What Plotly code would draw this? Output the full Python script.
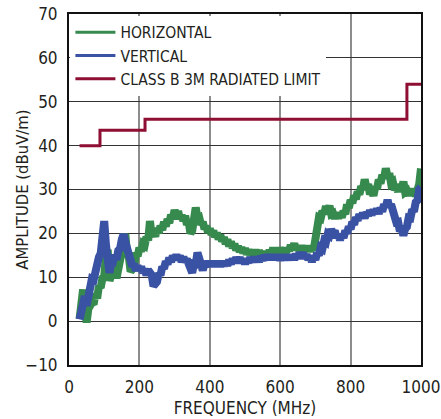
import plotly.graph_objects as go

# Frequency sampling grid (MHz): 30, 35, ..., 1000
FREQ_START_MHZ = 30
FREQ_STEP_MHZ = 5

horizontal_dbuv = [
    0.5, 3.5, 7.2, 3.0, -0.3, 2.8, 3.2, 4.2, 3.8, 6.3,
    5.2, 8.0, 7.6, 9.8, 10.2, 14.8, 16.3, 9.2, 10.3, 10.4,
    12.8, 9.8, 11.7, 12.4, 15.8, 17.3, 19.9, 15.2, 14.6, 11.3,
    11.8, 12.3, 15.6, 14.8, 16.7, 15.9, 17.6, 17.3, 19.2, 18.4,
    22.8, 19.4, 20.2, 19.3, 21.2, 20.1, 21.7, 20.8, 22.6, 21.6,
    23.2, 22.4, 24.2, 23.3, 25.3, 24.0, 25.1, 23.3, 24.1, 22.9,
    24.0, 22.0, 22.6, 20.0, 20.6, 23.6, 25.9, 23.4, 23.6, 22.0,
    22.6, 21.0, 21.7, 20.2, 21.1, 19.7, 20.6, 19.2, 20.1, 18.7,
    19.6, 18.2, 19.1, 17.6, 18.6, 17.1, 18.1, 16.7, 17.6, 16.2,
    17.1, 15.8, 16.8, 15.5, 16.6, 15.2, 16.3, 15.0, 16.1, 15.0,
    16.2, 14.9, 16.1, 14.8, 15.9, 14.5, 15.6, 14.8, 16.2, 15.2,
    16.7, 15.4, 16.6, 15.3, 16.7, 15.5, 16.5, 15.4, 16.6, 16.0,
    17.3, 16.4, 17.7, 16.2, 17.1, 15.9, 17.2, 15.8, 17.0, 16.0,
    17.1, 15.9, 17.0, 16.2, 18.4, 21.0, 23.6, 23.4, 25.1, 24.4,
    26.2, 25.0, 26.3, 24.4, 24.6, 23.4, 24.7, 23.5, 24.6, 23.6,
    25.1, 24.4, 26.6, 25.8, 27.6, 26.9, 28.6, 27.8, 29.5, 28.9,
    30.7, 30.0, 32.3, 30.4, 31.2, 28.9, 29.7, 28.6, 30.6, 30.1,
    32.2, 31.4, 33.3, 32.6, 34.8, 32.9, 33.7, 31.4, 31.7, 29.9,
    30.7, 29.5, 31.2, 30.0, 31.8, 29.4, 29.7, 28.6, 30.2, 28.6,
    29.7, 28.5, 30.1, 31.3, 34.8,
]

vertical_dbuv = [
    0.4, 2.6, 3.4, 5.7, 3.5, 6.6, 7.0, 9.6, 9.4, 11.6,
    12.0, 14.6, 15.4, 18.6, 22.8, 17.4, 13.6, 11.0, 13.6, 13.5,
    15.1, 14.0, 16.1, 16.5, 18.6, 19.8, 18.0, 16.5, 14.5, 14.6,
    12.5, 13.0, 11.5, 12.6, 11.5, 12.4, 11.0, 11.9, 10.5, 11.6,
    10.6, 10.5, 8.0, 8.6, 9.0, 10.9, 10.5, 12.4, 12.0, 13.6,
    13.0, 14.4, 13.5, 14.9, 14.0, 15.1, 14.0, 14.9, 13.5, 14.6,
    13.5, 14.1, 12.5, 12.6, 11.0, 13.1, 13.0, 15.6, 13.5, 13.6,
    11.6, 13.0, 12.5, 13.6, 12.5, 13.6, 12.5, 13.6, 12.5, 13.6,
    12.5, 13.6, 12.6, 13.6, 12.7, 13.9, 13.0, 14.2, 13.3, 14.5,
    13.5, 14.5, 13.3, 14.2, 13.0, 14.2, 13.3, 14.5, 13.5, 14.6,
    13.5, 14.6, 13.5, 14.8, 13.8, 15.0, 14.0, 15.1, 14.0, 15.1,
    14.0, 15.1, 14.0, 15.1, 13.9, 15.0, 14.0, 15.1, 14.0, 15.0,
    14.0, 15.1, 14.0, 15.3, 14.3, 15.6, 14.5, 15.6, 14.3, 15.2,
    14.0, 14.9, 13.5, 14.8, 14.0, 15.6, 15.0, 16.8, 16.5, 18.3,
    18.0, 19.8, 19.5, 20.9, 20.0, 20.6, 19.0, 19.8, 18.5, 19.8,
    19.0, 20.6, 20.0, 21.6, 21.0, 22.6, 22.0, 23.6, 23.0, 24.3,
    23.5, 24.6, 23.5, 24.8, 24.0, 25.2, 24.2, 25.4, 24.5, 25.6,
    24.5, 25.8, 25.0, 26.6, 26.0, 27.6, 26.0, 26.6, 24.5, 24.6,
    22.5, 22.6, 20.5, 21.1, 19.5, 21.1, 21.5, 23.6, 23.5, 25.4,
    25.0, 27.1, 27.5, 30.1, 30.5,
]

# Class B 3m radiated limit (step breakpoints)
limit_freq_mhz = [30, 88, 216, 960, 1000]
limit_dbuv = [40, 43.5, 46, 54, 54]

series_names = ["HORIZONTAL", "VERTICAL", "CLASS B 3M RADIATED LIMIT"]
x_tick_vals = [0, 200, 400, 600, 800, 1000]
y_tick_vals = [-10, 0, 10, 20, 30, 40, 50, 60, 70]

freq_mhz = [FREQ_START_MHZ + FREQ_STEP_MHZ * i for i in range(len(horizontal_dbuv))]

GREEN = "#378a4e"
BLUE = "#3a52a3"
RED = "#8e0f33"
FONT = "DejaVu Sans Condensed, Liberation Sans Narrow, Arial Narrow, sans-serif"
TXT = "#231f20"

fig = go.Figure()
fig.add_trace(go.Scatter(x=freq_mhz, y=horizontal_dbuv, mode="lines",
                         line=dict(color=GREEN, width=8), showlegend=False,
                         hoverinfo="skip"))
fig.add_trace(go.Scatter(x=freq_mhz, y=vertical_dbuv, mode="lines",
                         line=dict(color=BLUE, width=8), showlegend=False,
                         hoverinfo="skip"))
# legend entries
fig.add_trace(go.Scatter(x=[None], y=[None], mode="lines", name=series_names[0],
                         line=dict(color=GREEN, width=3)))
fig.add_trace(go.Scatter(x=[None], y=[None], mode="lines", name=series_names[1],
                         line=dict(color=BLUE, width=3)))
fig.add_trace(go.Scatter(x=limit_freq_mhz, y=limit_dbuv, mode="lines",
                         line=dict(color=RED, width=3, shape="hv"),
                         name=series_names[2]))

fig.update_layout(
    width=441, height=419,
    margin=dict(l=69, r=20, t=14, b=54, autoexpand=False),
    paper_bgcolor="white", plot_bgcolor="white",
    font=dict(family=FONT, size=17, color=TXT),
    legend=dict(x=0.004, y=0.995, xanchor="left", yanchor="top",
                bgcolor="white", borderwidth=0,
                font=dict(family=FONT, size=15.5, color=TXT),
                itemwidth=40, tracegroupgap=0),
    annotations=[dict(text="AMPLITUDE (dBuV/m)", textangle=-90,
                      xref="paper", yref="paper", x=-0.133, y=0.5,
                      xanchor="center", yanchor="middle", showarrow=False,
                      font=dict(size=16.5, color=TXT, family=FONT))],
)
fig.update_xaxes(range=[0, 1000], tickvals=x_tick_vals,
                 showgrid=True, gridcolor="#8c8c8c", gridwidth=1.5,
                 showline=True, linecolor="#111", linewidth=2, mirror=True,
                 zeroline=False, ticks="", ticklabelstandoff=6,
                 ticklabeloverflow="allow",
                 tickfont=dict(size=17, color=TXT, family=FONT),
                 title=dict(text="FREQUENCY (MHz)", standoff=6,
                            font=dict(size=17, color=TXT, family=FONT)))
fig.update_yaxes(range=[-10, 70], tickvals=y_tick_vals,
                 showgrid=True, gridcolor="#333", gridwidth=1,
                 showline=True, linecolor="#111", linewidth=2, mirror=True,
                 zeroline=False, ticks="", ticklabelstandoff=6,
                 ticklabeloverflow="allow",
                 tickfont=dict(size=17, color=TXT, family=FONT))

# remove the default 8 px page margin so the figure sits at the window origin
fig.write_html("out.html", config={"displayModeBar": False},
               post_script="document.body.style.margin='0px';")
